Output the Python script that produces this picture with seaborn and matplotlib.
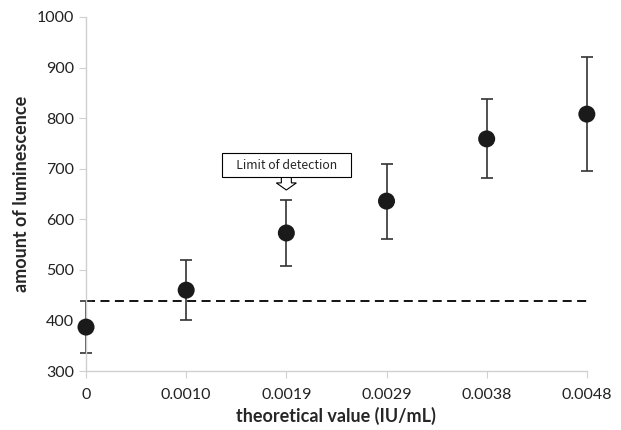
import numpy as np
import pandas as pd
import seaborn as sns
import matplotlib.pyplot as plt
from matplotlib.patches import FancyArrow

conc_labels = ['0', '0.0010', '0.0019', '0.0029', '0.0038', '0.0048']
lum_mean = [387, 460, 573, 636, 759, 808]
lum_sd = [52, 59, 66, 74, 78, 113]
detect_limit = 438

df = pd.DataFrame({'pos': np.arange(len(conc_labels)), 'mean': lum_mean, 'sd': lum_sd})

sns.set_style('white')
plt.rcParams['font.family'] = ['Lato', 'DejaVu Sans']

fig = plt.figure(figsize=(6.21, 4.30), dpi=100)
ax = fig.add_axes([0.1385, 0.137, 0.8065, 0.8235])

eb = ax.errorbar(df['pos'], df['mean'], yerr=df['sd'], fmt='none', ecolor='#333333',
                 elinewidth=1.2, capsize=4, capthick=1.2, zorder=2)
for art in eb.lines[1] + eb.lines[2]:
    art.set_clip_on(False)
sns.scatterplot(data=df, x='pos', y='mean', ax=ax, s=150, color='#1a1a1a',
                edgecolor='none', zorder=3, legend=False, clip_on=False)
ax.axhline(detect_limit, color='black', ls=(0, (5, 3)), lw=1.3, zorder=1)

ax.set_xlim(0, len(conc_labels) - 1)
ax.set_ylim(300, 1000)
ax.set_xticks(df['pos'])
ax.set_xticklabels(conc_labels)
ax.set_yticks(range(300, 1001, 100))

for s in ['top', 'right']:
    ax.spines[s].set_visible(False)
for s in ['left', 'bottom']:
    ax.spines[s].set_color('#d0d0d0')
    ax.spines[s].set_linewidth(1)
ax.tick_params(axis='both', which='both', length=5, color='#d0d0d0', labelsize=11.5,
               labelcolor='#222222', direction='out', left=True, bottom=True)
ax.tick_params(axis='x', pad=7)

ax.set_xlabel('theoretical value (IU/mL)', fontsize=13, fontweight='bold', labelpad=4)
ax.set_ylabel('amount of luminescence', fontsize=13, fontweight='bold', labelpad=5)

ax.add_patch(FancyArrow(2, 684, 0, -26, width=0.1, head_width=0.2, head_length=14,
                        length_includes_head=True, fc='white', ec='black', lw=0.8, zorder=4))
ax.text(2, 707, '   Limit of detection   ', ha='center', va='center', fontsize=8.8,
        family=['Noto Sans CJK JP', 'DejaVu Sans'], zorder=5,
        bbox=dict(boxstyle='square,pad=0.45', fc='white', ec='black', lw=0.8))

fig.savefig('out.png', dpi=100)
